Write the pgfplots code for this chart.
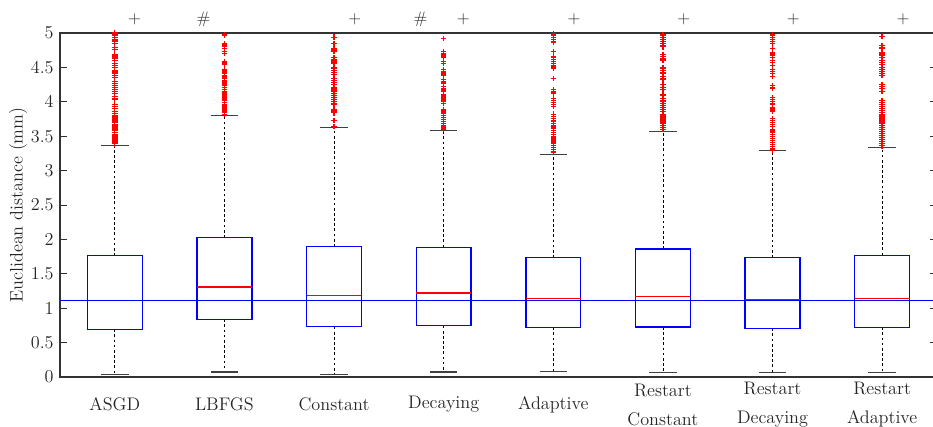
\documentclass[border=0pt,12pt]{standalone}
\usepackage{pgfplots}
\usepackage{pgfplotstable}
\pgfplotsset{compat=1.18}
\usepgfplotslibrary{statistics}

% Outliers above the upper whisker, one table per method
\pgfplotstableread{
y
3.39
3.41
3.43
3.45
3.47
3.49
3.51
3.53
3.55
3.58
3.60
3.62
3.65
3.67
3.70
3.72
3.75
3.78
3.80
3.83
3.86
3.90
3.93
3.96
4.03
4.05
4.08
4.12
4.15
4.18
4.21
4.24
4.27
4.30
4.35
4.38
4.42
4.45
4.50
4.53
4.56
4.60
4.63
4.65
4.68
4.76
4.79
4.85
4.88
4.90
4.93
4.96
4.98
5.00
}\outASGD

\pgfplotstableread{
y
3.82
3.84
3.86
3.88
3.91
3.94
3.96
3.99
4.02
4.04
4.07
4.10
4.13
4.15
4.18
4.21
4.24
4.26
4.29
4.31
4.34
4.36
4.38
4.41
4.43
4.45
4.47
4.55
4.57
4.59
4.70
4.73
4.77
4.81
4.84
4.97
}\outLBFGS

\pgfplotstableread{
y
3.64
3.73
3.84
3.86
3.88
3.97
4.00
4.03
4.06
4.09
4.12
4.15
4.17
4.20
4.25
4.28
4.31
4.34
4.40
4.43
4.46
4.49
4.56
4.58
4.61
4.64
4.74
4.76
4.78
4.85
4.94
}\outConst

\pgfplotstableread{
y
3.60
3.62
3.65
3.68
3.71
3.74
3.77
3.80
3.83
3.85
3.88
3.98
4.01
4.04
4.07
4.10
4.15
4.17
4.19
4.22
4.27
4.29
4.32
4.39
4.42
4.44
4.47
4.56
4.59
4.64
4.66
4.68
4.70
4.73
4.92
}\outDecay

\pgfplotstableread{
y
3.26
3.28
3.31
3.34
3.37
3.40
3.43
3.46
3.49
3.52
3.55
3.58
3.62
3.65
3.68
3.72
3.76
3.79
3.82
3.93
3.96
3.99
4.02
4.05
4.13
4.15
4.18
4.34
4.49
4.52
4.56
4.59
4.62
4.65
4.73
4.86
4.88
4.91
4.94
4.97
4.99
}\outAdapt

\pgfplotstableread{
y
3.60
3.63
3.66
3.69
3.72
3.75
3.78
3.81
3.86
3.89
3.92
3.95
3.98
4.01
4.05
4.10
4.18
4.21
4.25
4.33
4.37
4.42
4.46
4.49
4.61
4.63
4.66
4.69
4.80
4.82
4.85
4.88
4.91
4.94
4.97
}\outRConst

\pgfplotstableread{
y
3.30
3.32
3.35
3.38
3.41
3.44
3.47
3.50
3.53
3.56
3.59
3.64
3.67
3.70
3.73
3.76
3.86
3.88
3.91
3.97
4.00
4.03
4.06
4.19
4.21
4.24
4.37
4.41
4.44
4.47
4.53
4.57
4.60
4.64
4.68
4.71
4.77
4.85
4.88
4.91
4.94
4.97
}\outRDecay

\pgfplotstableread{
y
3.36
3.39
3.42
3.45
3.48
3.51
3.54
3.57
3.60
3.63
3.66
3.69
3.72
3.75
3.78
3.81
3.84
3.87
3.90
3.93
3.96
3.99
4.02
4.15
4.19
4.22
4.25
4.38
4.41
4.44
4.47
4.50
4.54
4.57
4.60
4.64
4.68
4.71
4.77
4.79
4.82
4.95
}\outRAdapt

\pgfplotsset{
  % dashed whisker stem with a solid end cap
  boxplot/draw/lower whisker/.code={%
    \draw[black, line width=0.5pt, dash pattern=on 1.8pt off 1.6pt]
      (boxplot cs:\pgfplotsboxplotvalue{lower quartile}) --
      (boxplot cs:\pgfplotsboxplotvalue{lower whisker});
    \draw[black!75, solid, line width=0.75pt]
      (boxplot whisker cs:\pgfplotsboxplotvalue{lower whisker},0) --
      (boxplot whisker cs:\pgfplotsboxplotvalue{lower whisker},1);
  },
  boxplot/draw/upper whisker/.code={%
    \draw[black, line width=0.5pt, dash pattern=on 1.8pt off 1.6pt]
      (boxplot cs:\pgfplotsboxplotvalue{upper quartile}) --
      (boxplot cs:\pgfplotsboxplotvalue{upper whisker});
    \draw[black!75, solid, line width=0.75pt]
      (boxplot whisker cs:\pgfplotsboxplotvalue{upper whisker},0) --
      (boxplot whisker cs:\pgfplotsboxplotvalue{upper whisker},1);
  },
  boxplot/every box/.style={draw=blue, line width=0.9pt},
  boxplot/every median/.style={draw=red, line width=0.7pt},
  boxplot/box extend=0.5,
  boxplot/whisker extend=0.25,
  boxplot/draw direction=y,
  bx/.style={blue, solid, no marks},
  outl/.style={only marks, mark=+, mark size=1.8pt, color=red,
    mark options={draw=red, solid, line width=0.85pt}},
}

\begin{document}
\begin{tikzpicture}
\begin{axis}[
  scale only axis,
  width=578.8pt, height=227pt,
  at={(39.6pt,33pt)}, anchor=south west,
  xmin=0.5, xmax=8.5, ymin=0, ymax=5,
  clip=false,
  xtick={1,2,3,4,5,6,7,8},
  xticklabels={ASGD, LBFGS, Constant, Decaying, Adaptive,
    {Restart\\[4.6pt]Constant}, {Restart\\[4.6pt]Decaying}, {Restart\\[4.6pt]Adaptive}},
  xticklabel style={align=center, anchor=center, yshift=-18.2pt},
  xtick style={draw=none},
  ytick={0,0.5,1,1.5,2,2.5,3,3.5,4,4.5,5},
  ytick pos=both,
  tick align=inside,
  major tick length=4.6pt,
  ytick style={black!80, line width=0.5pt},
  axis line style={black!80, line width=0.8pt},
  ylabel={Euclidean distance (mm)},
  every axis y label/.style={at={(axis description cs:-0.0479,0.5)},
    rotate=90, anchor=center},
  tick label style={text=black!85},
  label style={text=black!85},
]
% boxes, medians and whiskers
\addplot[bx, boxplot prepared={draw position=1, median=1.115,
  lower quartile=0.693, upper quartile=1.763,
  lower whisker=0.03, upper whisker=3.37}] coordinates {};
\addplot[bx, boxplot prepared={draw position=2, median=1.308,
  lower quartile=0.838, upper quartile=2.025,
  lower whisker=0.073, upper whisker=3.80}] coordinates {};
\addplot[bx, boxplot prepared={draw position=3, median=1.187,
  lower quartile=0.731, upper quartile=1.894,
  lower whisker=0.034, upper whisker=3.63}] coordinates {};
\addplot[bx, boxplot prepared={draw position=4, median=1.221,
  lower quartile=0.746, upper quartile=1.885,
  lower whisker=0.073, upper whisker=3.58}] coordinates {};
\addplot[bx, boxplot prepared={draw position=5, median=1.134,
  lower quartile=0.722, upper quartile=1.734,
  lower whisker=0.077, upper whisker=3.24}] coordinates {};
\addplot[bx, boxplot prepared={draw position=6, median=1.163,
  lower quartile=0.727, upper quartile=1.860,
  lower whisker=0.063, upper whisker=3.57}] coordinates {};
\addplot[bx, boxplot prepared={draw position=7, median=1.129,
  lower quartile=0.707, upper quartile=1.734,
  lower whisker=0.068, upper whisker=3.29}] coordinates {};
\addplot[bx, boxplot prepared={draw position=8, median=1.144,
  lower quartile=0.722, upper quartile=1.769,
  lower whisker=0.063, upper whisker=3.33}] coordinates {};

% outliers
\addplot[outl] table[x expr=1, y=y] {\outASGD};
\addplot[outl] table[x expr=2, y=y] {\outLBFGS};
\addplot[outl] table[x expr=3, y=y] {\outConst};
\addplot[outl] table[x expr=4, y=y] {\outDecay};
\addplot[outl] table[x expr=5, y=y] {\outAdapt};
\addplot[outl] table[x expr=6, y=y] {\outRConst};
\addplot[outl] table[x expr=7, y=y] {\outRDecay};
\addplot[outl] table[x expr=8, y=y] {\outRAdapt};

% reference level across all methods
\addplot[blue, line width=0.7pt, no marks] coordinates {(0.5,1.115) (8.5,1.115)};

% significance symbols above the axis
\begin{scope}[every node/.style={text=black!80, font=\small}]
\node at (axis cs:1.18,5.2) {$+$};
\node at (axis cs:1.81,5.2) {\#};
\node at (axis cs:3.19,5.2) {$+$};
\node at (axis cs:3.79,5.2) {\#};
\node at (axis cs:4.18,5.2) {$+$};
\node at (axis cs:5.19,5.2) {$+$};
\node at (axis cs:6.19,5.2) {$+$};
\node at (axis cs:7.19,5.2) {$+$};
\node at (axis cs:8.19,5.2) {$+$};
\end{scope}
\end{axis}
\pgfresetboundingbox
\useasboundingbox (0,0) rectangle (615.8pt,281.8pt);
\end{tikzpicture}
\end{document}
